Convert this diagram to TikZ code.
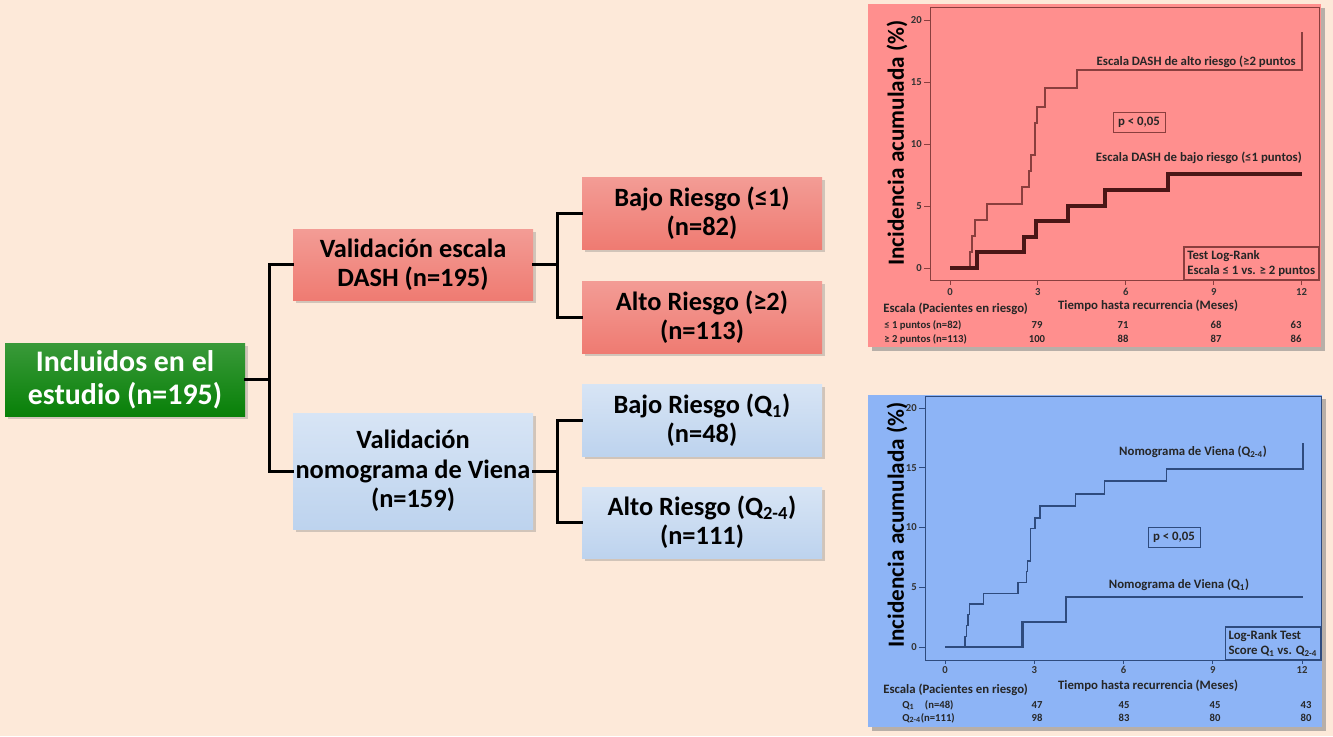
\documentclass[tikz,border=0pt]{standalone}
\usepackage{fontspec}
\setmainfont{Carlito}
\usetikzlibrary{shadows}
\definecolor{bgpeach}{HTML}{FDE9D9}
\definecolor{boxgreen}{HTML}{088008}
\definecolor{boxred}{HTML}{EF7B72}
\definecolor{boxblue}{HTML}{BDD3EE}
\definecolor{panelred}{HTML}{FF8F8E}
\definecolor{panelblue}{HTML}{8DB4F6}
\definecolor{curvered}{HTML}{8A3E3E}
\definecolor{curvereddark}{HTML}{4A1616}
\definecolor{curveblue}{HTML}{2E4B7E}
\tikzset{
  box/.style={inner sep=0pt, minimum width=180pt, align=center,
    font=\bfseries\fontsize{19.8}{22}\selectfont,
    drop shadow={shadow xshift=2pt, shadow yshift=-2pt, opacity=.35}},
  greenbox/.style={box, top color=boxgreen!80!white, bottom color=boxgreen, text=white,
    font=\bfseries\fontsize{22.4}{25}\selectfont},
  redbox/.style={box, top color=boxred!75!white, bottom color=boxred},
  bluebox/.style={box, top color=boxblue!60!white, bottom color=boxblue},
  link/.style={line width=2.25pt, line cap=rect},
  panel/.style={drop shadow={shadow xshift=3pt, shadow yshift=-3pt, opacity=.55}},
  charttext/.style={inner sep=0pt, font=\bfseries\fontsize{9.6}{11}\selectfont, text=black!85},
  smalltext/.style={inner sep=0pt, font=\bfseries\fontsize{8}{9}\selectfont, text=black!85},
  ticktext/.style={inner sep=0pt, font=\bfseries\fontsize{8}{9}\selectfont, text=black!80},
  pbox/.style={charttext, draw, line width=0.75pt, minimum width=39pt, minimum height=15pt},
  testbox/.style={charttext, draw, line width=0.9pt, align=left, inner sep=2.5pt},
  ylab/.style={inner sep=0pt, rotate=90, font=\bfseries\fontsize{17.4}{20}\selectfont}
}
\begin{document}
\begin{tikzpicture}[x=0.75pt,y=0.75pt,yscale=-1,xscale=1]
\useasboundingbox (0,0) rectangle (1333,736);
\fill[bgpeach] (0,0) rectangle (1333,736);
% Boxes
\node[greenbox, minimum height=54.75pt] (incl) at (125,379.5) {Incluidos en el\\estudio (n=195)};
\node[redbox, minimum height=53.25pt] (dash) at (413,264.5) {Validación escala\\DASH (n=195)};
\node[bluebox, minimum height=87pt] (viena) at (413,471) {Validación\\nomograma de Viena\\(n=159)};
\node[redbox, minimum height=54pt] (bajodash) at (702,213) {Bajo Riesgo (≤1)\\(n=82)};
\node[redbox, minimum height=54pt] (altodash) at (702,317) {Alto Riesgo (≥2)\\(n=113)};
\node[bluebox, minimum height=54pt] (bajoviena) at (702,420) {Bajo Riesgo (Q\textsubscript{1})\\(n=48)};
\node[bluebox, minimum height=53.25pt] (altoviena) at (702,522.5) {Alto Riesgo (Q\textsubscript{2-4})\\(n=111)};
%Straight Lines
\draw[link] (incl.east) -- ++(24,0) coordinate (jmain) |- (dash.west);
\draw[link] (jmain) |- (viena.west);
\draw[link] (dash.east) -- ++(24,0) coordinate (jdash) |- (bajodash.west);
\draw[link] (jdash) |- (altodash.west);
\draw[link] (viena.east) -- ++(24,0) coordinate (jviena) |- (bajoviena.west);
\draw[link] (jviena) |- (altoviena.west);
%Panel DASH
\fill[panelred, panel] (868,4) rectangle (1321,347);
\draw[curvered, line width=0.75pt] (930,7) rectangle (1319,280);
\foreach \v [evaluate=\v as \py using 268-12.4*\v] in {0,5,10,15,20}
  {\draw[curvered, line width=0.75pt] (930,\py) -- (924,\py);
   \node[ticktext, anchor=east] (ytr\v) at (922,\py) {\v};}
\foreach \m [evaluate=\m as \px using 950+29.3*\m] in {0,3,6,9,12}
  {\draw[curvered, line width=0.75pt] (\px,280) -- (\px,285);
   \node[ticktext] (xtr\m) at (\px,292) {\m};}
\begin{scope}[shift={(950,268)}, x=21.975pt, y=-9.3pt]
\draw[curvered, line width=1.5pt] (0,0) -| (0.68,1.3) -| (0.76,2.6) -| (0.85,3.9) -| (1.25,5.2) -| (2.45,6.5) -| (2.71,7.8) -| (2.75,9.1) -| (2.9,11.7) -| (2.98,13) -| (3.24,14.5) -| (4.35,16) -| (12,19);
\draw[curvereddark, line width=3pt] (0,0) -| (0.91,1.3) -| (2.54,2.5) -| (2.93,3.8) -| (4.02,5) -| (5.29,6.3) -| (7.43,7.6) -- (12,7.6);
\end{scope}
% Text Node
\node[ylab] (yred) at (897,143) {Incidencia acumulada (\%)};
\node[charttext, anchor=east] (altolab) at (1296,62) {Escala DASH de alto riesgo (≥2 puntos};
\node[pbox, draw=curvered] (pred) at (1139,122) {p < 0,05};
\node[charttext, anchor=east] (bajolab) at (1302,158) {Escala DASH de bajo riesgo (≤1 puntos)};
\node[testbox, draw=curvered, anchor=south east] (testred) at (1319,280) {Test Log-Rank\\Escala ≤ 1 vs. ≥ 2 puntos};
\node[charttext] (tiempored) at (1148,306) {Tiempo hasta recurrencia (Meses)};
\node[charttext, anchor=west] (escalared) at (883,309) {Escala (Pacientes en riesgo)};
\node[smalltext, anchor=west] (filared1) at (884,325) {≤ 1 puntos (n=82)};
\node[smalltext, anchor=west] (filared2) at (884,339) {≥ 2 puntos (n=113)};
\foreach \px/\a/\b in {1037/79/100, 1123/71/88, 1216/68/87, 1296/63/86}
  {\node[smalltext] (nra\px) at (\px,325) {\a};
   \node[smalltext] (nrb\px) at (\px,339) {\b};}
%Panel Viena
\fill[panelblue, panel] (868,395) rectangle (1322,727);
\draw[curveblue, line width=0.75pt] (925,396) rectangle (1321,660);
\foreach \v [evaluate=\v as \py using 647-11.95*\v] in {0,5,10,15,20}
  {\draw[curveblue, line width=0.75pt] (925,\py) -- (919,\py);
   \node[ticktext, anchor=east] (ytb\v) at (917,\py) {\v};}
\foreach \m [evaluate=\m as \px using 945+29.75*\m] in {0,3,6,9,12}
  {\draw[curveblue, line width=0.75pt] (\px,660) -- (\px,664);
   \node[ticktext] (xtb\m) at (\px,670) {\m};}
\begin{scope}[shift={(945,647)}, x=22.3125pt, y=-8.9625pt]
\draw[curveblue, line width=1.1pt] (0,0) -| (0.67,0.9) -| (0.72,1.8) -| (0.78,2.7) -| (0.82,3.6) -| (1.29,4.5) -| (2.46,5.4) -| (2.74,6.3) -| (2.78,7.2) -| (2.88,9.9) -| (3.03,10.8) -| (3.19,11.8) -| (4.39,12.8) -| (5.36,13.9) -| (7.45,14.9) -| (12.04,17.1);
\draw[curveblue, line width=1.8pt] (0,0) -| (2.6,2.1) -| (4.07,4.2) -- (12.04,4.2);
\end{scope}
% Text Node
\node[ylab] (yblue) at (897,525) {Incidencia acumulada (\%)};
\node[charttext] (q24lab) at (1193,452) {Nomograma de Viena (Q\textsubscript{2-4})};
\node[pbox, draw=curveblue] (pblue) at (1174,537.5) {p < 0,05};
\node[charttext] (q1lab) at (1179,585) {Nomograma de Viena (Q\textsubscript{1})};
\node[testbox, draw=curveblue, anchor=south east] (testblue) at (1321,660) {Log-Rank Test\\Score Q\textsubscript{1} vs. Q\textsubscript{2-4}};
\node[charttext] (tiempoblue) at (1148,686) {Tiempo hasta recurrencia (Meses)};
\node[charttext, anchor=west] (escalablue) at (883,690) {Escala (Pacientes en riesgo)};
\node[smalltext, anchor=west] (filablue1) at (902,705) {Q\textsubscript{1}\quad (n=48)};
\node[smalltext, anchor=west] (filablue2) at (902,718) {Q\textsubscript{2-4}(n=111)};
\foreach \px/\a/\b in {1037/47/98, 1124/45/83, 1215/45/80, 1306/43/80}
  {\node[smalltext] (nba\px) at (\px,705) {\a};
   \node[smalltext] (nbb\px) at (\px,718) {\b};}
\end{tikzpicture}
\end{document}
